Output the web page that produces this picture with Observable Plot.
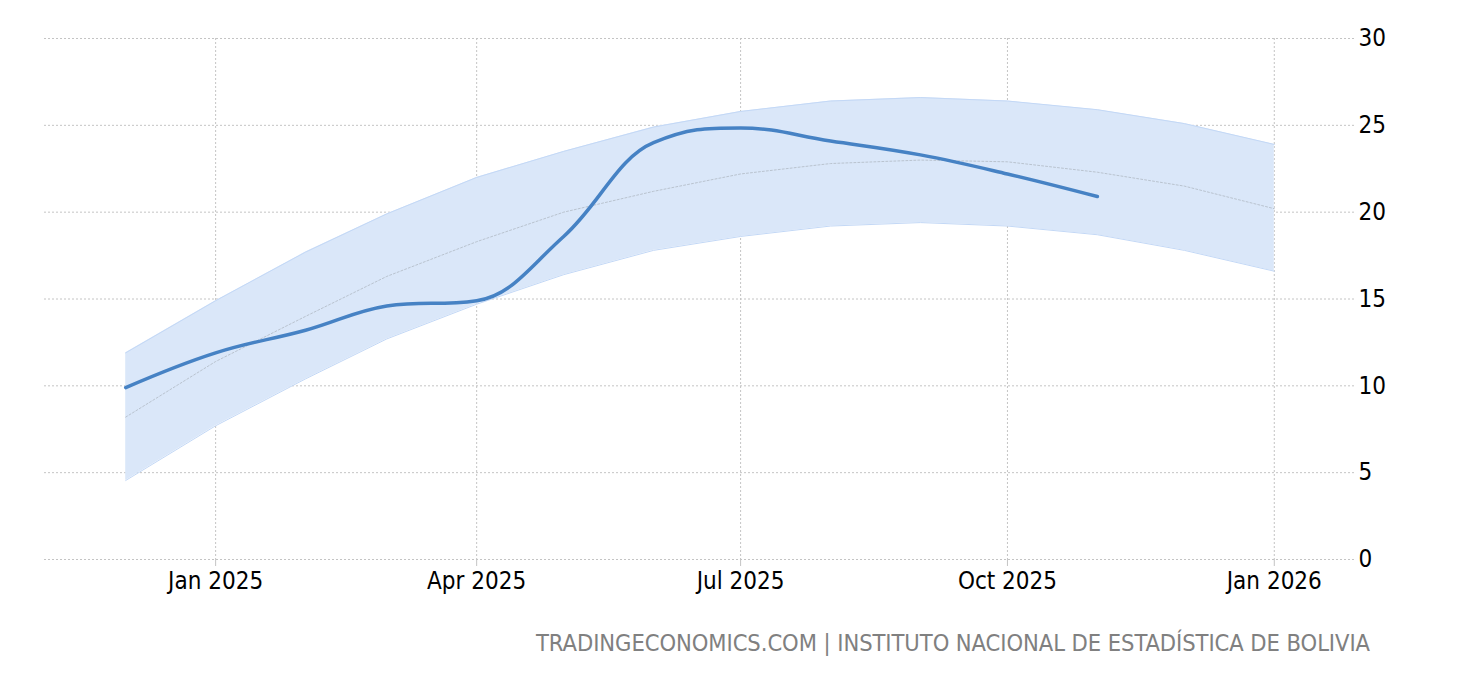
<!DOCTYPE html>
<html>
<head>
<meta charset="utf-8">
<script src="https://cdn.jsdelivr.net/npm/d3@7"></script>
<script src="https://cdn.jsdelivr.net/npm/@observablehq/plot@0.6"></script>
<style>
  html, body { margin: 0; padding: 0; background: #fff; }
  body { position: relative; width: 1460px; height: 680px; overflow: hidden; }
  #chart svg { display: block; }
  #caption {
    position: absolute;
    right: 90px;
    top: 632px;
    font-family: "DejaVu Sans Condensed", "DejaVu Sans", sans-serif;
    font-size: 23.5px;
    line-height: 1;
    color: #808080;
    white-space: nowrap;
  }
</style>
</head>
<body>
<div id="chart"></div>
<div id="caption">TRADINGECONOMICS.COM | INSTITUTO NACIONAL DE ESTADÍSTICA DE BOLIVIA</div>
<script>
// Months of the forecast band (Dec 2024 – Jan 2026)
const bandMonths = ["2024-12","2025-01","2025-02","2025-03","2025-04","2025-05","2025-06","2025-07","2025-08","2025-09","2025-10","2025-11","2025-12","2026-01"];
const bandUpper  = [11.9, 14.9, 17.7, 19.9, 22.0, 23.5, 24.9, 25.8, 26.4, 26.6, 26.4, 25.9, 25.1, 23.9];
const bandMid    = [8.2, 11.4, 14.0, 16.3, 18.3, 20.0, 21.2, 22.2, 22.8, 23.0, 22.9, 22.3, 21.5, 20.2];
const bandLower  = [4.55, 7.7, 10.4, 12.7, 14.7, 16.4, 17.8, 18.6, 19.2, 19.4, 19.2, 18.7, 17.8, 16.6];

// Actual series (Dec 2024 – Nov 2025)
const actualMonths = ["2024-12","2025-01","2025-02","2025-03","2025-04","2025-05","2025-06","2025-07","2025-08","2025-09","2025-10","2025-11"];
const actualValues = [9.9, 11.9, 13.2, 14.6, 14.9, 18.6, 24.0, 24.85, 24.1, 23.3, 22.2, 20.9];

// Axis ticks
const xTickMonths = ["2025-01","2025-04","2025-07","2025-10","2026-01"];
const yTicks = [0, 5, 10, 15, 20, 25, 30];
const xDomain = ["2024-11-03", "2026-01-29"];

const parse = s => new Date(s.length === 7 ? s + "-01T00:00:00Z" : s + "T00:00:00Z");

const band = bandMonths.map((m, i) => ({date: parse(m), lo: bandLower[i], hi: bandUpper[i], mid: bandMid[i]}));
const actual = actualMonths.map((m, i) => ({date: parse(m), value: actualValues[i]}));
const xTicks = xTickMonths.map(parse);

// Smoothed spline (control points at 0.4 of neighbour distance, clamped at extremes)
function splineCurve(context) {
  let pts;
  return {
    areaStart() {}, areaEnd() {},
    lineStart() { pts = []; },
    point(x, y) { pts.push([+x, +y]); },
    lineEnd() {
      const n = pts.length;
      if (!n) return;
      const s = 1.5, d = 2.5;
      const rc = new Array(n);
      context.moveTo(pts[0][0], pts[0][1]);
      for (let i = 1; i < n; i++) {
        const [x, y] = pts[i];
        const [lx, ly] = pts[i - 1];
        let lcx = x, lcy = y;
        if (i < n - 1) {
          const [nx, ny] = pts[i + 1];
          lcx = (s * x + lx) / d; lcy = (s * y + ly) / d;
          let rcx = (s * x + nx) / d, rcy = (s * y + ny) / d;
          const corr = ((rcy - lcy) * (rcx - x)) / (rcx - lcx) + y - rcy;
          lcy += corr; rcy += corr;
          if (lcy > ly && lcy > y) { lcy = Math.max(ly, y); rcy = 2 * y - lcy; }
          else if (lcy < ly && lcy < y) { lcy = Math.min(ly, y); rcy = 2 * y - lcy; }
          if (rcy > ny && rcy > y) { rcy = Math.max(ny, y); lcy = 2 * y - rcy; }
          else if (rcy < ny && rcy < y) { rcy = Math.min(ny, y); lcy = 2 * y - rcy; }
          rc[i] = [rcx, rcy];
        }
        const p = rc[i - 1] || pts[i - 1];
        context.bezierCurveTo(p[0], p[1], lcx, lcy, x, y);
      }
    }
  };
}

const gridColor = "#c4c4c4";

const chart = Plot.plot({
  width: 1460,
  height: 600,
  marginLeft: 44,
  marginRight: 105,
  marginTop: 38,
  marginBottom: 41,
  style: {fontFamily: "'DejaVu Sans Condensed', 'DejaVu Sans', sans-serif", fontSize: "24px", color: "#000", background: "#fff"},
  x: {type: "utc", domain: xDomain.map(parse)},
  y: {domain: [0, 30]},
  marks: [
    Plot.gridY(yTicks, {stroke: gridColor, strokeOpacity: 1, strokeDasharray: "2,2", strokeWidth: 1}),
    Plot.gridX(xTicks, {stroke: gridColor, strokeOpacity: 1, strokeDasharray: "2,2", strokeWidth: 1}),
    Plot.areaY(band, {x: "date", y1: "lo", y2: "hi", fill: "#dae7f9", fillOpacity: 1}),
    Plot.lineY(band, {x: "date", y: "hi", stroke: "#c3d8f6", strokeWidth: 1}),
    Plot.lineY(band, {x: "date", y: "lo", stroke: "#c3d8f6", strokeWidth: 1}),
    Plot.lineY(band, {x: "date", y: "mid", stroke: "#b9c3cf", strokeWidth: 1, strokeDasharray: "2,2"}),
    Plot.lineY(actual, {x: "date", y: "value", stroke: "#4682c4", strokeWidth: 3.5, curve: splineCurve, strokeLinecap: "round"}),
    Plot.axisX(xTicks, {tickFormat: d3.utcFormat("%b %Y"), tickSize: 7, tickPadding: 5, stroke: gridColor, fontSize: 24, label: null}),
    Plot.axisY(yTicks, {anchor: "right", tickSize: 0, tickPadding: 3, fontSize: 24, label: null})
  ]
});
document.getElementById("chart").appendChild(chart);

// fit caption width to the reference span (x 536 → 1370)
const cap = document.getElementById("caption");
const w = cap.getBoundingClientRect().width;
const nChars = cap.textContent.length;
cap.style.letterSpacing = ((834 - w) / nChars) + "px";
</script>
</body>
</html>
